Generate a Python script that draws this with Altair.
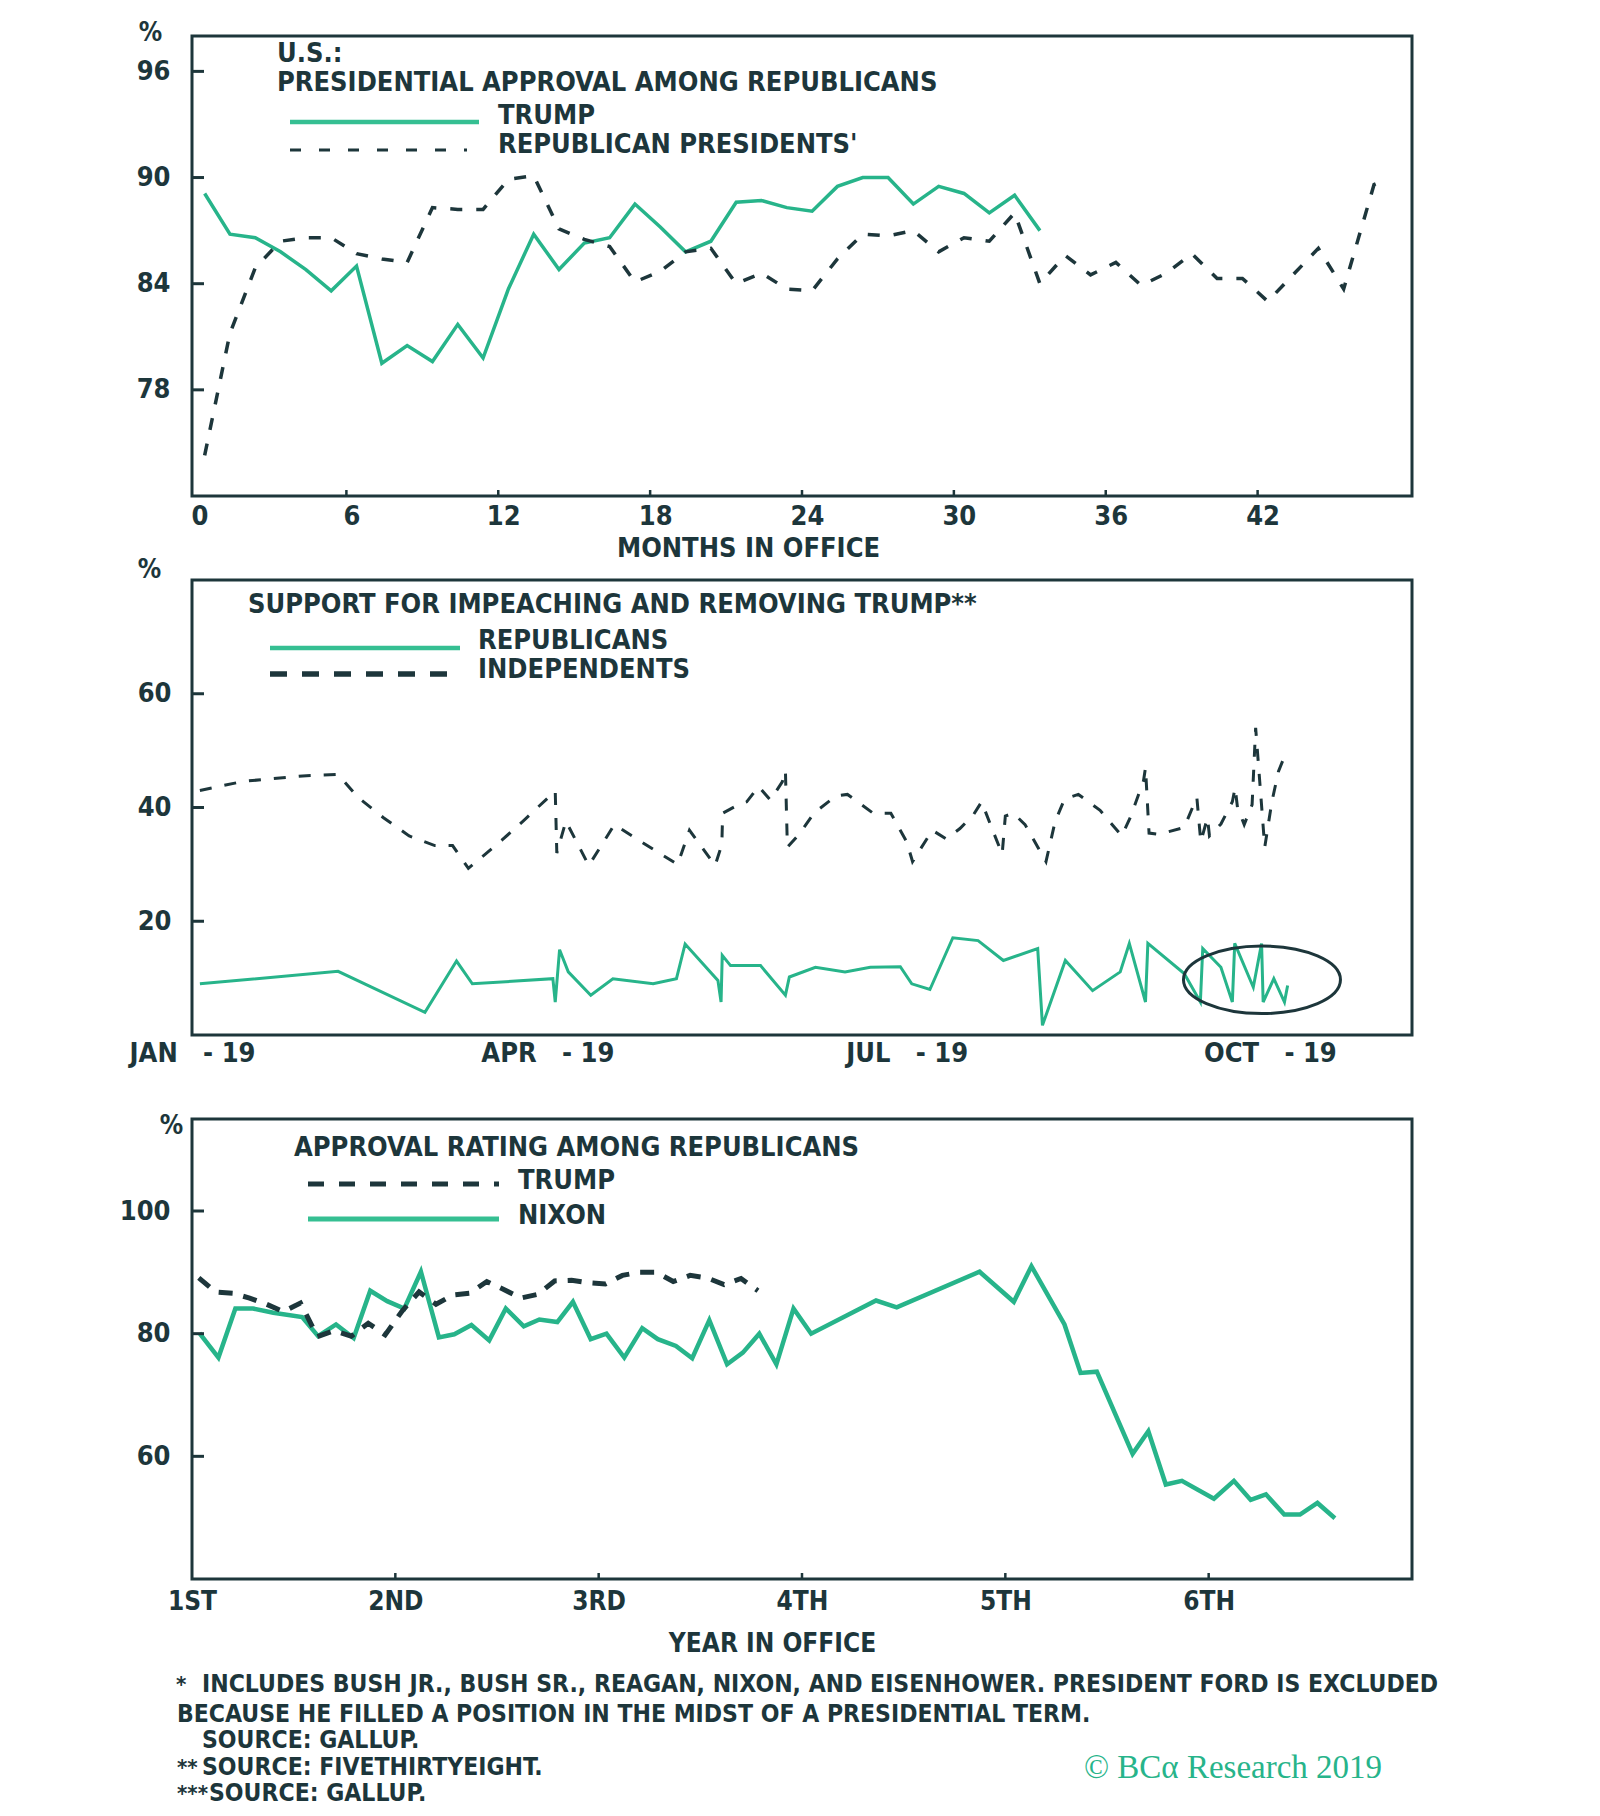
import altair as alt
import pandas as pd

FONT = "Liberation Sans Narrow, DejaVu Sans Condensed, Roboto Condensed, Roboto, sans-serif"
SERIF = "Liberation Serif, DejaVu Serif, serif"
GREEN = "#27b48a"
LEG_GREEN = "#35bf92"
DARK = "#1d363b"
NB = "\u00a0"

# ---------------- Panel 1: approval among Republicans, by month in office ----------------
trump_month = [0.4, 1.4, 2.4, 3.4, 4.4, 5.4, 6.4, 7.4, 8.4, 9.4, 10.4, 11.4, 12.4, 13.4, 14.4,
               15.4, 16.4, 17.4, 18.4, 19.4, 20.4, 21.4, 22.4, 23.4, 24.4, 25.4, 26.4, 27.4,
               28.4, 29.4, 30.4, 31.4, 32.4, 33.4]
trump_approval = [89.1, 86.8, 86.6, 85.8, 84.8, 83.6, 85.0, 79.5, 80.5, 79.6, 81.7, 79.8, 83.7,
                  86.8, 84.8, 86.3, 86.6, 88.5, 87.2, 85.8, 86.4, 88.6, 88.7, 88.3, 88.1, 89.5,
                  90.0, 90.0, 88.5, 89.5, 89.1, 88.0, 89.0, 87.0]
gop_month = [0.4, 1.4, 2.4, 3.4, 4.4, 5.4, 6.4, 7.4, 8.4, 9.4, 10.4, 11.4, 12.4, 13.4, 14.4,
             15.4, 16.4, 17.4, 18.4, 19.4, 20.4, 21.4, 22.4, 23.4, 24.4, 25.4, 26.4, 27.4,
             28.4, 29.4, 30.4, 31.4, 32.4, 33.4, 34.4, 35.4, 36.4, 37.4, 38.4, 39.4, 40.4,
             41.4, 42.4, 43.4, 44.4, 45.4, 46.6, 47.1]
gop_approval = [74.3, 81.2, 84.9, 86.4, 86.6, 86.6, 85.7, 85.4, 85.2, 88.3, 88.2, 88.2, 89.9,
                90.1, 87.1, 86.5, 86.1, 84.1, 84.7, 85.8, 86.0, 84.0, 84.6, 83.7, 83.6, 85.4,
                86.8, 86.7, 87.0, 85.8, 86.6, 86.4, 88.0, 84.0, 85.6, 84.5, 85.2, 83.9, 84.6,
                85.7, 84.3, 84.3, 83.0, 84.5, 86.0, 83.7, 89.6, 89.9]
p1_y_labels = [78, 84, 90, 96]
p1_x_labels = [0, 6, 12, 18, 24, 30, 36, 42]
p1_x_ticks = [6, 12, 18, 24, 30, 36, 42]

# ---------------- Panel 2: support for impeaching and removing Trump, 2019 ----------------
rep_day = [2, 37, 59, 67, 71, 91.4, 92, 93.1, 95.3, 101, 106.6, 116.8, 122.7, 124.9, 133.2,
           134, 134.3, 136.4, 144, 150.3, 151.3, 157.9, 165.4, 171.8, 179.4, 182.3, 186.9,
           192.7, 199.1, 205.5, 214.2, 215.4, 221.2, 228.1, 235.1, 237.4, 241.5, 242.1, 251.3,
           255.4, 256, 260.6, 263.5, 264.1, 268.8, 270.9, 271.3, 274, 276.7, 277.5]
rep_support = [9.0, 11.2, 4.0, 13.0, 9.0, 9.9, 5.8, 15.0, 11.1, 7.0, 9.9, 9.0, 9.9, 16.0, 9.6,
               5.8, 14.0, 12.2, 12.2, 7.0, 10.2, 11.9, 11.1, 11.9, 12.0, 9.0, 8.0, 17.1, 16.6,
               13.1, 15.2, 1.7, 13.1, 7.8, 11.1, 16.1, 5.8, 16.1, 10.8, 5.8, 15.2, 11.9, 5.8,
               16.1, 8.4, 16.1, 5.8, 9.9, 5.8, 8.7]
ind_day = [2, 13, 29, 37, 42, 48.5, 55, 61.5, 66, 70, 78.4, 84, 92.0, 92.4, 94.7, 100.5, 107,
           116, 123, 126, 132.5, 134.2, 134.4, 138.7, 140.5, 143.5, 146.5, 149.5, 150.3, 150.8,
           154, 157.5, 163, 166, 169, 172.5, 177, 181, 182.5, 187.5, 191, 194.5, 198, 200,
           202.5, 205.2, 206, 208, 211, 216.3, 218.6, 221, 224.5, 230, 235.5, 237.8, 241,
           241.5, 242.4, 245, 251.3, 254.5, 255.5, 257.2, 257.7, 260.6, 263.5, 264.2, 264.8,
           266.5, 268.5, 269.4, 270.5, 271.7, 273.5, 275.2, 277.3]
ind_support = [43.0, 44.6, 45.6, 45.8, 41.8, 38.2, 35.0, 33.3, 33.3, 29.3, 34.2, 37.7, 42.9,
               32.0, 37.6, 29.8, 37.0, 33.0, 30.0, 36.0, 29.8, 33.5, 39.0, 40.6, 41.0, 43.7,
               41.3, 44.5, 46.5, 33.0, 35.5, 39.0, 42.0, 42.3, 40.8, 39.0, 39.0, 34.0, 30.5,
               36.0, 34.5, 36.3, 38.8, 41.0, 36.5, 31.8, 38.5, 39.0, 37.0, 30.5, 37.5, 41.5,
               42.3, 39.5, 35.0, 38.5, 44.7, 47.0, 35.5, 35.3, 36.5, 41.8, 34.0, 38.2, 35.0,
               37.1, 41.0, 43.5, 40.0, 37.0, 40.5, 54.0, 44.0, 33.0, 41.0, 46.4, 50.0]
p2_y_labels = [20, 40, 60]
p2_month_names = ["JAN", "FEB", "MAR", "APR", "MAY", "JUN", "JUL", "AUG", "SEP", "OCT", "NOV", "DEC"]
p2_label_months = [1, 4, 7, 10]
circle_day = [271]
circle_val = [9.7]

# ---------------- Panel 3: Trump vs Nixon approval among Republicans ----------------
nixon_month = [0.44, 1.56, 2.56, 3.6, 4.8, 6.5, 7.44, 8.5, 9.54, 10.52, 11.52, 12.53, 13.51,
               14.57, 15.48, 16.49, 17.54, 18.52, 19.58, 20.5, 21.56, 22.48, 23.53, 24.46,
               25.51, 26.57, 27.49, 28.56, 29.52, 30.53, 31.58, 32.51, 33.48, 34.49, 35.5,
               36.54, 40.37, 41.59, 46.48, 48.5, 49.54, 51.49, 52.44, 53.4, 55.51, 56.44,
               57.47, 58.42, 60.31, 61.49, 62.48, 63.38, 64.46, 65.39, 66.42, 67.45]
nixon_approval = [80.1, 76.1, 84.1, 84.1, 83.4, 82.7, 79.6, 81.5, 79.3, 87.0, 85.3, 84.1, 90.1,
                  79.4, 79.9, 81.4, 78.9, 84.1, 81.2, 82.3, 81.9, 85.2, 79.1, 80.0, 76.1, 80.9,
                  79.1, 78.0, 76.0, 82.2, 75.0, 76.9, 80.0, 75.0, 84.1, 80.0, 85.4, 84.3, 90.1,
                  85.2, 91.0, 81.5, 73.6, 73.8, 60.4, 64.1, 55.4, 56.0, 53.1, 56.0, 52.9, 53.8,
                  50.5, 50.5, 52.4, 49.9]
p3_y_labels = [60, 80, 100]
p3_x_values = [0, 12, 24, 36, 48, 60]
p3_x_ticks = [12, 24, 36, 48, 60]
p3_year_labels = ["1ST", "2ND", "3RD", "4TH", "5TH", "6TH"]

footnotes = [
    "*",
    "INCLUDES BUSH JR., BUSH SR., REAGAN, NIXON, AND EISENHOWER. PRESIDENT FORD IS EXCLUDED",
    "BECAUSE HE FILLED A POSITION IN THE MIDST OF A PRESIDENTIAL TERM.",
    "SOURCE: GALLUP.",
    "**",
    "SOURCE: FIVETHIRTYEIGHT.",
    "***",
    "SOURCE: GALLUP.",
]
copyright_text = "\u00a9 BC\u03b1 Research 2019"

W = 1220
H1, H2, H3 = 460, 455, 460
TS = 27  # in-panel text size


# ---------------- helpers ----------------
def txt(s, x, y, size=TS, color=DARK, font=FONT, weight="bold", align="left"):
    return alt.Chart(pd.DataFrame({"label": [s]})).mark_text(
        font=font, fontSize=size, fontWeight=weight, color=color, align=align,
        baseline="middle").encode(text="label:N", x=alt.value(x), y=alt.value(y))


def seg(x1, x2, y, color, width, dash=None):
    kw = dict(color=color, strokeWidth=width)
    if dash:
        kw["strokeDash"] = dash
    return alt.Chart(pd.DataFrame({"a": [0]})).mark_rule(**kw).encode(
        x=alt.value(x1), x2=alt.value(x2), y=alt.value(y))


def y_ticks(vals, field, scale):
    return alt.Chart(pd.DataFrame({field: vals})).mark_rule(color=DARK, strokeWidth=3).encode(
        y=alt.Y(f"{field}:Q", scale=scale), x=alt.value(0), x2=alt.value(12))


def x_ticks(vals, field, scale, h):
    return alt.Chart(pd.DataFrame({field: vals})).mark_rule(color=DARK, strokeWidth=2.5).encode(
        x=alt.X(f"{field}:Q", scale=scale), y=alt.value(h), y2=alt.value(h - 6))


AX = dict(grid=False, domain=False, ticks=False, tickSize=0, labelFont=FONT, titleFont=FONT,
          labelColor=DARK, titleColor=DARK, labelFontWeight="bold", titleFontWeight="bold",
          labelFlush=False)

# ---------------- Panel 1 ----------------
xs1 = alt.Scale(domain=[-0.1, 48.1], nice=False, zero=False)
ys1 = alt.Scale(domain=[72, 98], nice=False, zero=False)
d_trump = pd.DataFrame({"month": trump_month, "val": trump_approval})
d_gop = pd.DataFrame({"month": gop_month, "val": gop_approval})

p1_main = alt.Chart(d_trump).mark_line(color=GREEN, strokeWidth=3.5).encode(
    x=alt.X("month:Q", scale=xs1, axis=alt.Axis(
        values=p1_x_labels, labelFontSize=27, labelPadding=7, labelOffset=5,
        title="MONTHS IN OFFICE", titleFontSize=27, titleX=556, titleY=52,
        titleBaseline="middle", titleAlign="center", **AX)),
    y=alt.Y("val:Q", scale=ys1, axis=alt.Axis(
        values=p1_y_labels, labelFontSize=27, labelPadding=22, title="%", titleAngle=0,
        titleFontSize=26, titleX=-42, titleY=-4, titleBaseline="middle", titleAlign="center", **AX)),
)
p1_gop = alt.Chart(d_gop).mark_line(color=DARK, strokeWidth=3.5, strokeDash=[12, 14]).encode(
    x=alt.X("month:Q", scale=xs1), y=alt.Y("val:Q", scale=ys1))

p1 = alt.layer(
    p1_main, p1_gop, y_ticks(p1_y_labels, "val", ys1), x_ticks(p1_x_ticks, "month", xs1, H1),
    txt("U.S.:", 85, 18),
    txt("PRESIDENTIAL APPROVAL AMONG REPUBLICANS", 85, 47),
    seg(98, 287, 86, LEG_GREEN, 4.5),
    txt("TRUMP", 306, 80),
    seg(98, 275, 114, DARK, 3, [11, 18]),
    txt("REPUBLICAN PRESIDENTS'", 306, 109),
).properties(width=W, height=H1)

# ---------------- Panel 2 ----------------
t0 = pd.Timestamp("2019-01-01")
xs2 = alt.Scale(domain=[alt.DateTime(year=2019, month=1, date=1),
                        alt.DateTime(year=2019, month=11, date=6)], nice=False)
ys2 = alt.Scale(domain=[0, 80], nice=False, zero=False)
d_rep = pd.DataFrame({"date": t0 + pd.to_timedelta(rep_day, unit="D"), "val": rep_support,
                      "i": range(len(rep_day))})
d_ind = pd.DataFrame({"date": t0 + pd.to_timedelta(ind_day, unit="D"), "val": ind_support,
                      "i": range(len(ind_day))})
d_circle = pd.DataFrame({"date": t0 + pd.to_timedelta(circle_day, unit="D"), "val": circle_val})

month_expr = ("['" + "','".join(p2_month_names) + "'][month(datum.value)]"
              " + '" + NB * 3 + "-" + NB + "19'")

p2_main = alt.Chart(d_rep).mark_line(color=GREEN, strokeWidth=3).encode(
    x=alt.X("date:T", scale=xs2, axis=alt.Axis(
        values=[alt.DateTime(year=2019, month=m, date=1) for m in p2_label_months],
        labelExpr=month_expr, labelFontSize=27, labelPadding=5, title=None, **AX)),
    y=alt.Y("val:Q", scale=ys2, axis=alt.Axis(
        values=p2_y_labels, labelFontSize=27, labelPadding=21, title="%", titleAngle=0,
        titleFontSize=26, titleX=-43, titleY=-11, titleBaseline="middle", titleAlign="center", **AX)),
    order="i:Q",
)
p2_ind = alt.Chart(d_ind).mark_line(color=DARK, strokeWidth=3, strokeDash=[12, 13]).encode(
    x=alt.X("date:T", scale=xs2), y=alt.Y("val:Q", scale=ys2), order="i:Q")

ELLIPSE = ("M -1 0 C -1 -0.2375 -0.5523 -0.43 0 -0.43 C 0.5523 -0.43 1 -0.2375 1 0 "
           "C 1 0.2375 0.5523 0.43 0 0.43 C -0.5523 0.43 -1 0.2375 -1 0 Z")
p2_circle = alt.Chart(d_circle).mark_point(
    shape=ELLIPSE, size=157 * 157, filled=False, stroke=DARK, strokeWidth=3, opacity=1).encode(
    x=alt.X("date:T", scale=xs2), y=alt.Y("val:Q", scale=ys2))

p2 = alt.layer(
    p2_main, p2_ind, p2_circle, y_ticks(p2_y_labels, "val", ys2),
    txt("SUPPORT FOR IMPEACHING AND REMOVING TRUMP**", 56, 25),
    seg(78, 268, 68, LEG_GREEN, 4.5),
    txt("REPUBLICANS", 286, 61),
    seg(78, 255, 94, DARK, 5.5, [17, 15]),
    txt("INDEPENDENTS", 286, 90),
).properties(width=W, height=H2)

# ---------------- Panel 3 ----------------
xs3 = alt.Scale(domain=[0, 72], nice=False, zero=False)
ys3 = alt.Scale(domain=[40, 115], nice=False, zero=False)
d_nixon = pd.DataFrame({"month": nixon_month, "val": nixon_approval})
d_trump3 = pd.DataFrame({"month": trump_month, "val": trump_approval})

year_expr = "['" + "','".join(p3_year_labels) + "'][round(datum.value/12)]"

p3_main = alt.Chart(d_nixon).mark_line(color=GREEN, strokeWidth=4.5).encode(
    x=alt.X("month:Q", scale=xs3, axis=alt.Axis(
        values=p3_x_values, labelExpr=year_expr, labelFontSize=26, labelPadding=9,
        title="YEAR IN OFFICE", titleFontSize=26, titleX=580, titleY=64,
        titleBaseline="middle", titleAlign="center", **AX)),
    y=alt.Y("val:Q", scale=ys3, axis=alt.Axis(
        values=p3_y_labels, labelFontSize=27, labelPadding=22, title="%", titleAngle=0,
        titleFontSize=26, titleX=-21, titleY=6, titleBaseline="middle", titleAlign="center", **AX)),
)
p3_trump = alt.Chart(d_trump3).mark_line(color=DARK, strokeWidth=5, strokeDash=[14, 11]).encode(
    x=alt.X("month:Q", scale=xs3), y=alt.Y("val:Q", scale=ys3))

FS = 24.5
p3 = alt.layer(
    p3_main, p3_trump, y_ticks(p3_y_labels, "val", ys3), x_ticks(p3_x_ticks, "month", xs3, H3),
    txt("APPROVAL RATING AMONG REPUBLICANS", 102, 29),
    seg(116, 307, 65, DARK, 5, [16, 15]),
    txt("TRUMP", 326, 62),
    seg(116, 307, 100, LEG_GREEN, 5),
    txt("NIXON", 326, 97),
    txt(footnotes[0], -16, 566, size=22),
    txt(footnotes[1], 10, 566, size=FS),
    txt(footnotes[2], -15, 596, size=FS),
    txt(footnotes[3], 10, 622, size=FS),
    txt(footnotes[4], -15, 649, size=22),
    txt(footnotes[5], 10, 649, size=FS),
    txt(footnotes[6], -15, 675, size=22),
    txt(footnotes[7], 17, 675, size=FS),
    txt(copyright_text, 892, 649, size=33, color=GREEN, font=SERIF, weight="normal"),
).properties(width=W, height=H3)

chart = alt.vconcat(p1, p2, p3, spacing=84, bounds="flush").properties(
    padding={"left": 109, "top": 9, "right": 10, "bottom": 5},
    background="white",
).configure_view(stroke=DARK, strokeWidth=3)

chart.save("out.html", embed_options={"renderer": "svg", "actions": False})
